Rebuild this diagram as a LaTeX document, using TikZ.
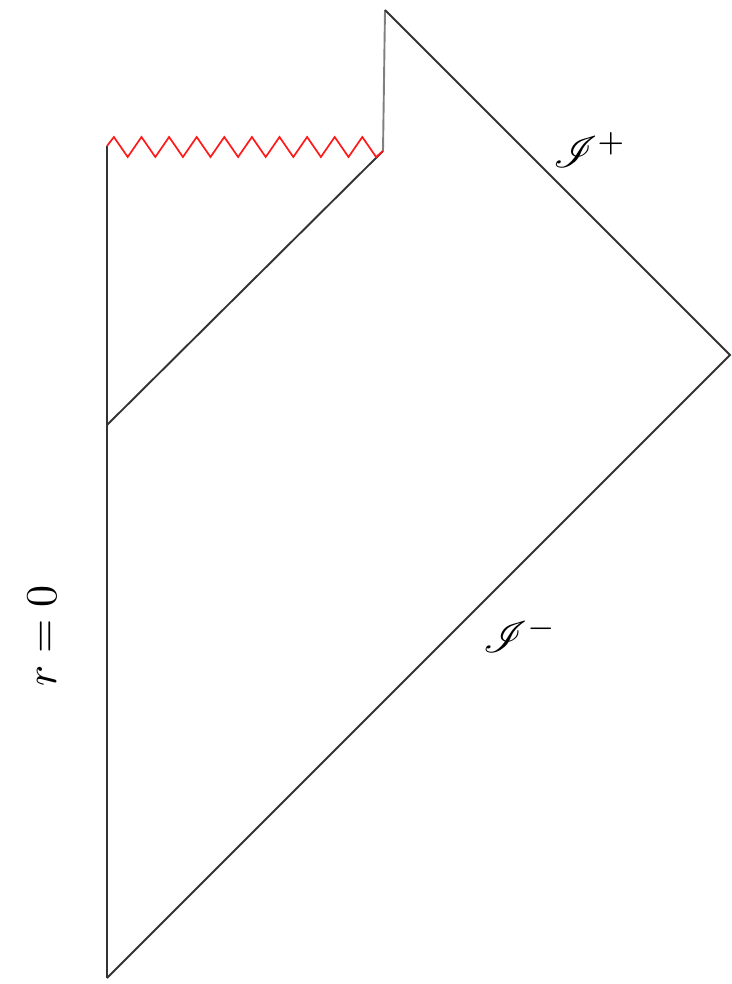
\documentclass[tikz,border=0pt]{standalone}
\usepackage{mathrsfs}
\begin{document}
\begin{tikzpicture}[x=1pt,y=-1pt,
  edge/.style={draw=black!80,line width=1.9pt},
  thinedge/.style={draw=black!50,line width=1.9pt},
  sing/.style={draw=red!90,line width=1.7pt,line join=miter},
  lab/.style={scale=4.4,inner sep=0pt}]
\useasboundingbox (0,0) rectangle (731,984);
\coordinate (origin) at (107,978);
\coordinate (collapse) at (107,425);
\coordinate (singL) at (107,146);
\coordinate (singR) at (383,151);
\coordinate (iplus) at (385,10);
\coordinate (izero) at (730,355);
% boundaries
\draw[edge] (origin) -- (collapse) -- (singL);
\draw[edge] (collapse) -- (singR);
\draw[thinedge] (singR) -- (iplus);
\draw[edge] (iplus) -- (izero) -- (origin);
% singularity zigzag
\draw[sing] (singL)
  \foreach \i in {0,...,9} {
    -- ({107+6.9+27.6*\i},137) -- ({107+20.7+27.6*\i},157)
  } -- (singR);
% labels
\node[lab] (scriplus) at (590,150) {$\mathscr{I}^+$};
\node[lab] (scriminus) at (520,635) {$\mathscr{I}^-$};
\node[lab,rotate=90] (rzero) at (42,636) {$r=0$};
\end{tikzpicture}
\end{document}
